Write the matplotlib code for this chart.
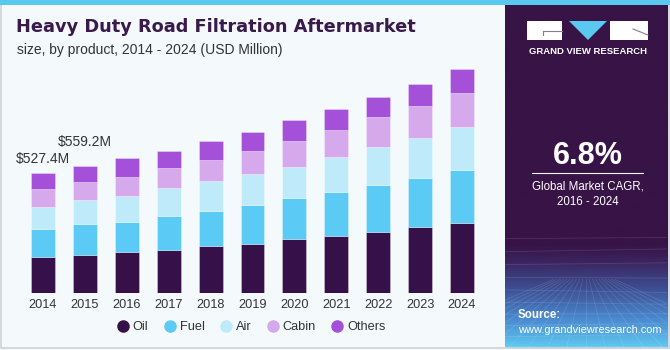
import numpy as np
import matplotlib
matplotlib.use('Agg')
from matplotlib import pyplot as plt
from matplotlib.patches import Rectangle, Polygon
from matplotlib.lines import Line2D
from matplotlib.colors import LinearSegmentedColormap

#%% Data (USD Million)
years = ['2014', '2015', '2016', '2017', '2018', '2019', '2020', '2021', '2022', '2023', '2024']
oil = [158.4, 169.0, 180.0, 189.0, 207.0, 216.0, 238.0, 251.0, 268.0, 290.0, 308.0]
fuel = [123.2, 133.0, 132.0, 150.0, 154.0, 172.0, 180.0, 194.0, 207.0, 216.0, 233.0]
air = [96.8, 107.0, 114.0, 123.0, 132.0, 136.0, 136.0, 154.0, 167.0, 176.0, 189.0]
cabin = [79.2, 80.0, 84.0, 88.0, 92.0, 101.0, 114.0, 119.0, 132.0, 141.0, 150.0]
others = [69.8, 70.2, 84.0, 75.0, 84.0, 84.0, 92.0, 92.0, 88.0, 97.0, 106.0]
series = ['Oil', 'Fuel', 'Air', 'Cabin', 'Others']
colors = ['#361048', '#5bcbf5', '#bfeafa', '#d5a9ec', '#a450d8']
notes = {0: '$527.4M', 1: '$559.2M'}

plt.rcParams['font.family'] = ['Liberation Sans', 'DejaVu Sans']

W, H = 670, 350
fig = plt.figure(figsize=(6.7, 3.5), dpi=100)
fig.patch.set_facecolor('#f4f9fc')

def fx(px): return px / W
def fy(py): return 1 - py / H

# frame and top stripe
fig.patches.append(Rectangle((fx(1), fy(348)), fx(668), 346 / H, transform=fig.transFigure,
                             facecolor='none', edgecolor='#cfd3d6', lw=1.2))
fig.patches.append(Rectangle((0, fy(5)), 1, 5 / H, transform=fig.transFigure,
                             facecolor='#5bc8f0', edgecolor='none'))

#%% Bars
ax = fig.add_axes([fx(22), fy(293), fx(461), 233 / H])
ax.set_facecolor('none')
x = np.arange(len(years))
bottom = np.zeros(len(years))
for name, vals, col in zip(series, [oil, fuel, air, cabin, others], colors):
    ax.bar(x, vals, 0.57, bottom=bottom, color=col, edgecolor=(1, 1, 1, 0.35), lw=0.6, label=name)
    bottom += np.array(vals)
for i, txt in notes.items():
    ax.annotate(txt, (x[i], bottom[i]), xytext=(0, 14 if i == 0 else 24), textcoords='offset pixels',
                ha='center', va='center', fontsize=10, color='#333333')
ax.set_xlim(-0.5, len(years) - 0.5)
ax.set_ylim(0, 1025)
ax.set_xticks(x)
ax.set_xticklabels(years, fontsize=9.2, color='#333333')
ax.tick_params(axis='x', length=0, pad=4)
ax.set_yticks([])
for s in ax.spines.values():
    s.set_visible(False)

handles = [Line2D([], [], ls='none', marker='o', ms=8, color=c) for c in colors]
fig.legend(handles, series, loc='center', bbox_to_anchor=(fx(251), fy(327)), ncol=5, frameon=False,
           fontsize=9.2, handletextpad=0.3, columnspacing=1.15, labelcolor='#333333', handlelength=1.0)

#%% Titles
fig.text(fx(16), fy(27), 'Heavy Duty Road Filtration Aftermarket', fontsize=12.8, fontweight='bold',
         family='DejaVu Sans', color='#3a1a4a', va='center')
fig.text(fx(17), fy(50), 'size, by product, 2014 - 2024 (USD Million)', fontsize=10,
         color='#333333', va='center')

#%% Right panel
pan = fig.add_axes([fx(505), fy(348), fx(162), 343 / H])
pan.set_xlim(0, 1)
pan.set_ylim(0, 1)
pan.axis('off')
grad = LinearSegmentedColormap.from_list('g', [(0, '#5ec8f0'), (0.08, '#4a8ad0'), (0.17, '#3d4f92'),
                                               (0.25, '#3c2460'), (0.3, '#371346'), (1, '#371346')])
pan.imshow(np.linspace(0, 1, 200).reshape(-1, 1), aspect='auto', cmap=grad, origin='lower',
           extent=(0, 1, 0, 1))
# faint mesh
for k in range(10):
    yy = 0.005 + 0.028 * k ** 1.1
    pan.plot([0, 1], [yy, yy + 0.008 * np.sin(k)], color='white', alpha=0.12, lw=0.6)
for k in range(-6, 14):
    pan.plot([0.5 + (k - 4) * 0.02, 0.5 + (k - 4) * 0.12], [0.2, 0], color='white', alpha=0.12, lw=0.6)

# logo
fig.patches.append(Rectangle((fx(527), fy(40)), fx(35), 19 / H, transform=fig.transFigure,
                             facecolor='white', edgecolor='none'))
fig.patches.append(Rectangle((fx(610), fy(40)), fx(38), 19 / H, transform=fig.transFigure,
                             facecolor='white', edgecolor='none'))
fig.patches.append(Polygon([(fx(569), fy(21)), (fx(607), fy(21)), (fx(588), fy(40))],
                           transform=fig.transFigure, facecolor='#5bc8f0', edgecolor='none'))
fig.lines.append(Line2D([fx(543), fx(562)], [fy(31), fy(31)], transform=fig.transFigure,
                        color='#8a7a96', lw=0.8))
fig.lines.append(Line2D([fx(543), fx(543)], [fy(31), fy(35)], transform=fig.transFigure,
                        color='#8a7a96', lw=0.8))
fig.lines.append(Line2D([fx(633), fx(648)], [fy(29), fy(35)], transform=fig.transFigure,
                        color='#8a7a96', lw=0.8))
fig.text(fx(588), fy(51), 'GRAND VIEW RESEARCH', fontsize=6.8, fontweight='bold', color='white',
         ha='center', va='center')

fig.text(fx(588), fy(156), '6.8%', fontsize=22, fontweight='bold', color='white', ha='center', va='center')
fig.lines.append(Line2D([fx(532), fx(643)], [fy(173), fy(173)], transform=fig.transFigure,
                        color='white', lw=0.8))
fig.text(fx(588), fy(186), 'Global Market CAGR,', fontsize=8.3, color='white', ha='center', va='center')
fig.text(fx(588), fy(202), '2016 - 2024', fontsize=8.3, color='white', ha='center', va='center')
fig.text(fx(518), fy(315), 'Source:', fontsize=8.3, fontweight='bold', color='white', va='center')
fig.text(fx(518), fy(330), 'www.grandviewresearch.com', fontsize=7.9, color='white', va='center')

fig.savefig('out.png', dpi=100, facecolor=fig.get_facecolor())
